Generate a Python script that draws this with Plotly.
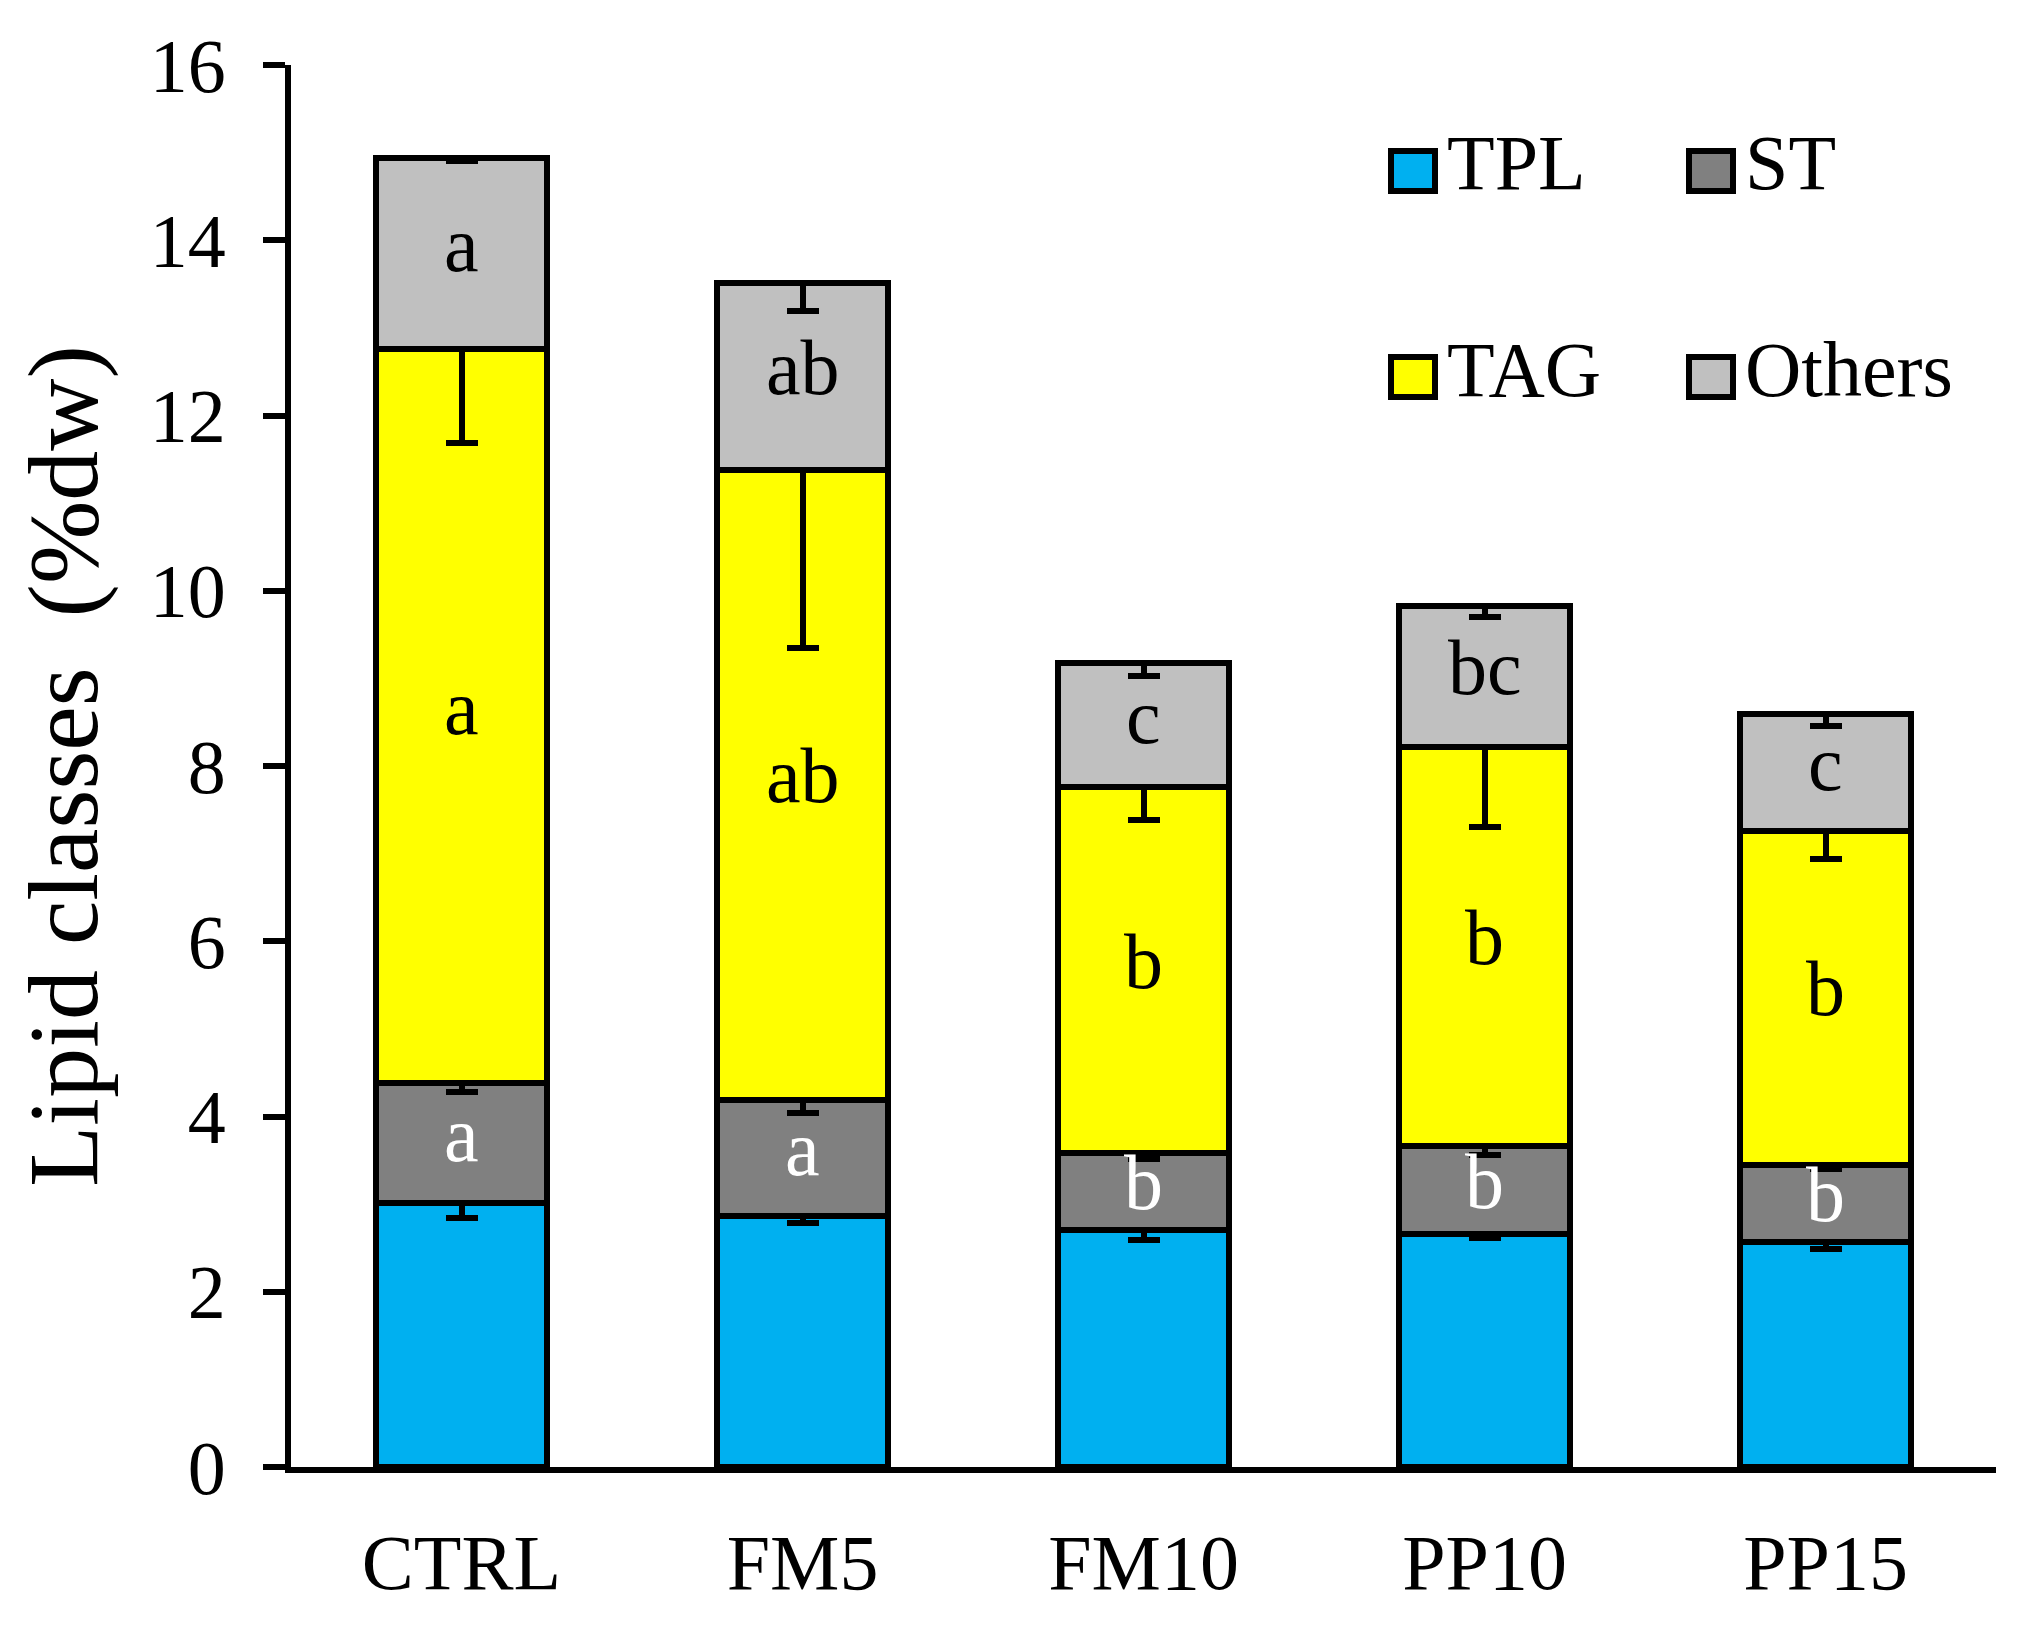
import plotly.graph_objects as go

# lipid classes (%dw)
groups = ["CTRL", "FM5", "FM10", "PP10", "PP15"]
classes = ["TPL", "ST", "TAG", "Others"]

# segment tops (cumulative), converted to segment sizes below
tpl_top = [3.01, 2.87, 2.70, 2.66, 2.57]
st_top = [4.38, 4.19, 3.58, 3.66, 3.45]
tag_top = [12.76, 11.38, 7.76, 8.22, 7.26]
oth_top = [14.94, 13.51, 9.17, 9.83, 8.59]

# lower error bars
tpl_err = [0.17, 0.09, 0.11, 0.05, 0.08]
st_err = [0.10, 0.15, 0.06, 0.10, 0.05]
tag_err = [1.07, 2.03, 0.38, 0.92, 0.32]
oth_err = [0.03, 0.32, 0.14, 0.13, 0.13]

# significance letters
tpl_lab = ["", "", "", "", ""]
st_lab = ["a", "a", "b", "b", "b"]
tag_lab = ["a", "ab", "b", "b", "b"]
oth_lab = ["a", "ab", "c", "bc", "c"]

colors = ["#00B0F0", "#808080", "#FFFF00", "#C0C0C0"]
label_colors = ["black", "white", "black", "black"]

tops = [tpl_top, st_top, tag_top, oth_top]
errs = [tpl_err, st_err, tag_err, oth_err]
labs = [tpl_lab, st_lab, tag_lab, oth_lab]

FONT = "Liberation Serif, Times New Roman, serif"

fig = go.Figure()
annotations = []
prev = [0] * len(groups)
for name, top, err, lab, col, lc in zip(classes, tops, errs, labs, colors, label_colors):
    size = [t - p for t, p in zip(top, prev)]
    fig.add_trace(go.Bar(
        x=groups, y=size, name=name,
        marker=dict(color=col, line=dict(color="black", width=6)),
        error_y=dict(type="data", symmetric=False, array=[0] * len(groups),
                     arrayminus=err, thickness=6, width=16, color="black"),
        showlegend=False,
    ))
    # letters centred in each segment
    for g, lo, hi, t in zip(groups, prev, top, lab):
        if t:
            annotations.append(dict(x=g, y=(lo + hi) / 2, text=t, showarrow=False,
                                    yshift=9, font=dict(family=FONT, size=78, color=lc)))
    prev = top

# the page adds an 8 px body margin, so the figure is a bit smaller
W, H = 2001, 1613
L, R, T, B = 283, 13, 57, 154
pw, ph = W - L - R, H - T - B


def px(x):
    return (x - 8 - L) / pw


def py(y):
    return (H - B - (y - 8)) / ph


shapes = []
col_x = [1391, 1689]
row_y = [151, 357]
for i, name in enumerate(classes):
    cx = col_x[i % 2]
    ry = row_y[i // 2]
    shapes.append(dict(type="rect", xref="paper", yref="paper",
                       x0=px(cx), x1=px(cx + 44), y0=py(ry + 40), y1=py(ry),
                       fillcolor=colors[i], line=dict(color="black", width=6)))
    annotations.append(dict(xref="paper", yref="paper", x=px(cx + 54), y=py(ry + 12),
                            text=name, showarrow=False, xanchor="left", yanchor="middle",
                            font=dict(family=FONT, size=78, color="black")))

fig.update_layout(
    width=W, height=H,
    margin=dict(l=L, r=R, t=T, b=B, autoexpand=False),
    barmode="stack", bargap=0.5,
    plot_bgcolor="white", paper_bgcolor="white",
    font=dict(family=FONT, size=78, color="black"),
    shapes=shapes, annotations=annotations,
    xaxis=dict(range=[-0.5, 4.5], showline=True, linewidth=6, linecolor="black",
               ticks="", showgrid=False, ticklabelstandoff=22,
               tickfont=dict(family=FONT, size=78)),
    yaxis=dict(range=[0, 16], dtick=2, showline=True, linewidth=6, linecolor="black",
               ticks="outside", ticklen=22, tickwidth=6, tickcolor="black",
               showgrid=False, zeroline=False, ticklabelstandoff=22,
               tickfont=dict(family=FONT, size=76),
               title=dict(text="Lipid classes\u00a0 (%dw)", standoff=28,
                          font=dict(family=FONT, size=100))),
)

fig.write_html("out.html")
